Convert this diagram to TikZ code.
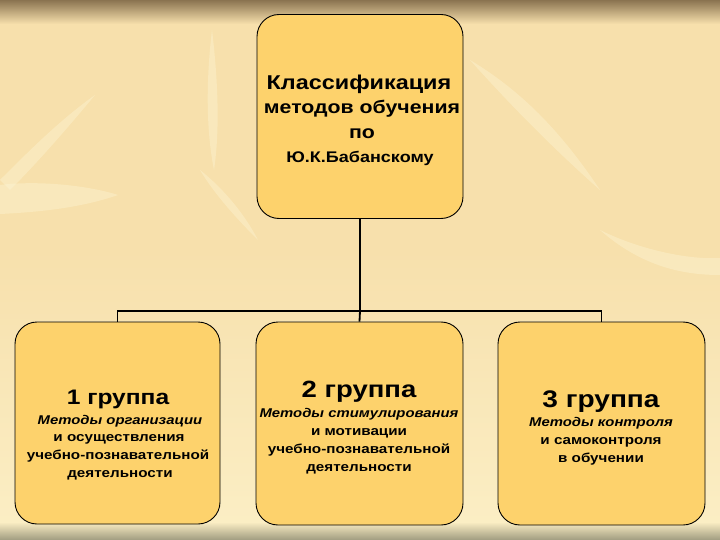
\documentclass[tikz,border=0pt]{standalone}
\usepackage{fontspec}
\setmainfont{Liberation Sans}[FakeStretch=1.17]
\definecolor{boxfill}{RGB}{253,210,108}
\definecolor{bgmain}{RGB}{247,224,172}
\definecolor{bglight}{RGB}{251,238,196}
\definecolor{bgpale}{RGB}{253,246,214}
\definecolor{bgtop}{RGB}{138,115,80}
\definecolor{bgbot}{RGB}{160,156,128}
\begin{document}
\begin{tikzpicture}[x=1pt,y=-1pt,
  box/.style={draw=black,line width=0.9pt,fill=boxfill,rounded corners=22pt,inner sep=0pt},
  conn/.style={draw=black,line width=1.8pt},
  leaf/.style={fill=bgpale,opacity=0.4},
  txt/.style={anchor=base,inner sep=0pt,font=\bfseries\fontsize{13}{13}\selectfont},
  itxt/.style={txt,font=\bfseries\itshape\fontsize{12.7}{13}\selectfont},
  head/.style={txt,font=\bfseries\fontsize{23.5}{24}\selectfont}]
\useasboundingbox (0,0) rectangle (720,540);
% background
\fill[bgmain] (0,0) rectangle (720,540);
\shade[top color=bgmain,bottom color=bglight] (0,250) rectangle (720,525);
\shade[top color=bgtop,bottom color=bgmain] (0,0) rectangle (720,24);
\shade[top color=bglight,bottom color=bgbot] (0,522) rectangle (720,540);
% faint leaves
\fill[leaf] (0,185) .. controls (40,180) and (90,186) .. (118,195) .. controls (80,208) and (40,212) .. (0,214) -- cycle;
\fill[leaf] (0,180) .. controls (30,150) and (60,120) .. (95,95) .. controls (70,125) and (40,160) .. (10,190) -- cycle;
\fill[leaf] (212,30) .. controls (218,80) and (220,130) .. (214,170) .. controls (206,130) and (206,80) .. (212,30) -- cycle;
\fill[leaf] (200,170) .. controls (225,190) and (245,215) .. (258,240) .. controls (238,220) and (215,195) .. (200,170) -- cycle;
\fill[leaf] (470,60) .. controls (520,90) and (560,130) .. (600,190) .. controls (555,150) and (515,110) .. (470,60) -- cycle;
\fill[leaf] (600,230) .. controls (640,250) and (690,260) .. (720,258) -- (720,275) .. controls (680,275) and (640,265) .. (600,230) -- cycle;
% boxes
\node[box,minimum width=206pt,minimum height=204pt] (top) at (360,116.5) {};
\node[box,minimum width=205pt,minimum height=202pt] (b1) at (117.5,423) {};
\node[box,minimum width=207pt,minimum height=203pt] (b2) at (359.5,423.5) {};
\node[box,minimum width=207pt,minimum height=203pt] (b3) at (601.5,423.5) {};
% connectors
\coordinate (j) at (360,311);
\draw[conn] (top.south) -- (j);
\draw[conn] (j) -| (b1.north);
\draw[conn] (j) -| (b3.north);
\draw[conn] (j) -- (b2.north);
% title text
\node[txt,font=\bfseries\fontsize{20}{20}\selectfont] (t1) at (359,90) {Классификация};
\node[txt,font=\bfseries\fontsize{18.2}{18}\selectfont] (t2) at (362,114) {методов обучения};
\node[txt,font=\bfseries\fontsize{18.2}{18}\selectfont] (t3) at (362,139) {по};
\node[txt,font=\bfseries\fontsize{15.4}{16}\selectfont] (t4) at (360,163) {Ю.К.Бабанскому};
% group 1
\node[head,font=\bfseries\fontsize{21}{21}\selectfont] (h1) at (118,404) {1 группа};
\node[itxt] (a1) at (120,424) {Методы организации};
\node[txt] (a2) at (119,441) {и осуществления};
\node[txt] (a3) at (118,459) {учебно-познавательной};
\node[txt] (a4) at (120,477) {деятельности};
% group 2
\node[head] (h2) at (359,397) {2 группа};
\node[itxt] (c1) at (359,417) {Методы стимулирования};
\node[txt] (c2) at (359,435) {и мотивации};
\node[txt] (c3) at (359,453) {учебно-познавательной};
\node[txt] (c4) at (359,471) {деятельности};
% group 3
\node[head,font=\bfseries\fontsize{24}{24}\selectfont] (h3) at (601,407) {3 группа};
\node[itxt] (d1) at (601,426) {Методы контроля};
\node[txt] (d2) at (601,444) {и самоконтроля};
\node[txt] (d3) at (601,462) {в обучении};
\end{tikzpicture}
\end{document}
